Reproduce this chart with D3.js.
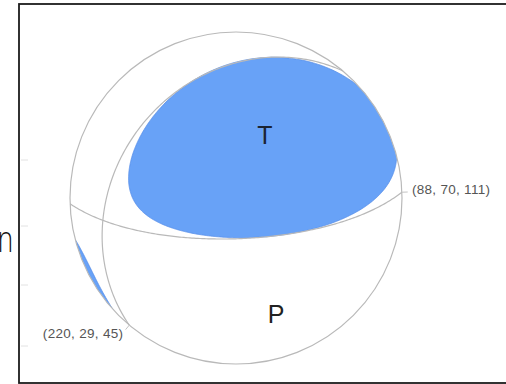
<!DOCTYPE html>
<html>
<head>
<meta charset="utf-8">
<script src="https://cdn.jsdelivr.net/npm/d3@7"></script>
<style>
  html, body { margin: 0; padding: 0; background: #fff; }
  svg { display: block; }
</style>
</head>
<body>
<svg id="chart" width="506" height="384"></svg>
<script>
// Nodal planes of the focal mechanism: strike, dip, rake (degrees)
const strikes = [88, 220];
const dips = [70, 29];
const rakes = [111, 45];
const planeLabels = ["(88, 70, 111)", "(220, 29, 45)"];
// Principal-axis labels
const axisLabels = ["T", "P"];
// Non-double-couple part of the full tensor: a negative dipole along the null (B) axis
const nullDipole = [0.13];

const W = 506, H = 384;
const cx = 236, cy = 198, R = 166;
const rad = Math.PI / 180;

const svg = d3.select("#chart");
svg.append("rect").attr("width", W).attr("height", H).attr("fill", "#fff");

// Equal-area (Schmidt) net, lower hemisphere: unit disk -> pixels
const xs = d3.scaleLinear().domain([-1, 1]).range([cx - R, cx + R]);
const ys = d3.scaleLinear().domain([-1, 1]).range([cy + R, cy - R]);

function project(v) {           // v = [north, east, down]
  let [N, E, D] = v;
  if (D < 0) { N = -N; E = -E; D = -D; }
  const th = Math.acos(Math.min(1, D));
  const rho = Math.SQRT2 * Math.sin(th / 2);
  const h = Math.hypot(N, E);
  const u = h > 1e-12 ? rho * E / h : 0;
  const w = h > 1e-12 ? rho * N / h : 0;
  return [xs(u), ys(w)];
}

function planeVectors(s, d, r) {
  s *= rad; d *= rad; r *= rad;
  const n = [-Math.sin(d) * Math.sin(s), Math.sin(d) * Math.cos(s), -Math.cos(d)];
  const sl = [
    Math.cos(r) * Math.cos(s) + Math.sin(r) * Math.cos(d) * Math.sin(s),
    Math.cos(r) * Math.sin(s) - Math.sin(r) * Math.cos(d) * Math.cos(s),
    -Math.sin(r) * Math.sin(d)
  ];
  return [n, sl];
}
const cross = (a, b) => [a[1] * b[2] - a[2] * b[1], a[2] * b[0] - a[0] * b[2], a[0] * b[1] - a[1] * b[0]];

// Moment tensor: double couple of the first plane plus the null-axis dipole
const [nv, sv] = planeVectors(strikes[0], dips[0], rakes[0]);
const Bax = cross(nv, sv);
const M = d3.range(3).map(i => d3.range(3).map(j =>
  sv[i] * nv[j] + nv[i] * sv[j] - nullDipole[0] * Bax[i] * Bax[j]));
function amplitude(r) {
  let a = 0;
  for (let i = 0; i < 3; i++) for (let j = 0; j < 3; j++) a += r[i] * M[i][j] * r[j];
  return a;
}

// Sample the first-motion polarity on a grid covering the net
const G = 320;
const values = new Float64Array(G * G);
for (let j = 0; j < G; j++) {
  for (let i = 0; i < G; i++) {
    const px = cx - R + (i + 0.5) * 2 * R / G;
    const py = cy - R + (j + 0.5) * 2 * R / G;
    let u = xs.invert(px), w = ys.invert(py);
    let rho = Math.hypot(u, w);
    if (rho > 1) { u /= rho; w /= rho; rho = 1; }
    const th = 2 * Math.asin(Math.min(1, rho / Math.SQRT2));
    const hh = Math.sin(th), D = Math.cos(th);
    const N = rho > 1e-12 ? hh * w / rho : 0;
    const E = rho > 1e-12 ? hh * u / rho : 0;
    values[j * G + i] = amplitude([N, E, D]);
  }
}
const compressional = d3.contours().size([G, G]).thresholds([0])(values)[0];
const gridPath = d3.geoPath(d3.geoTransform({
  point(x, y) { this.stream.point(cx - R + x * 2 * R / G, cy - R + y * 2 * R / G); }
}));

svg.append("clipPath").attr("id", "net")
  .append("circle").attr("cx", cx).attr("cy", cy).attr("r", R);

svg.append("path")
  .attr("d", gridPath(compressional))
  .attr("clip-path", "url(#net)")
  .attr("fill", "#68a2f7")
  .attr("stroke", "#5a90ea")
  .attr("stroke-width", 0.8);

// Frame
svg.append("rect")
  .attr("x", 19).attr("y", 4).attr("width", 600).attr("height", 379)
  .attr("fill", "none").attr("stroke", "#1c1c1c").attr("stroke-width", 1.8);

// Faint tick marks along the frame
[160, 226, 285, 346].forEach(t => {
  svg.append("line").attr("x1", 21).attr("x2", 28).attr("y1", t).attr("y2", t)
    .attr("stroke", "#e2e2e2").attr("stroke-width", 1);
});

// Cut-off letter at the left edge
svg.append("text")
  .attr("transform", "translate(-2.4,252) scale(0.72,1)")
  .attr("font-family", "Open Sans, sans-serif")
  .attr("font-weight", 300)
  .attr("font-size", 37)
  .attr("fill", "#111")
  .text("n");

// Primitive circle
svg.append("circle").attr("cx", cx).attr("cy", cy).attr("r", R)
  .attr("fill", "none").attr("stroke", "#b9b9b9").attr("stroke-width", 1.2);

// Nodal planes as great circles
const line = d3.line();
strikes.forEach((s, k) => {
  const sr = s * rad, dr = dips[k] * rad;
  const along = [Math.cos(sr), Math.sin(sr), 0];
  const down = [-Math.cos(dr) * Math.sin(sr), Math.cos(dr) * Math.cos(sr), Math.sin(dr)];
  const pts = d3.range(0, 181).map(a => {
    const t = a * rad;
    return project([0, 1, 2].map(i => Math.cos(t) * along[i] + Math.sin(t) * down[i]));
  });
  svg.append("path").attr("d", line(pts))
    .attr("fill", "none").attr("stroke", "#b9b9b9").attr("stroke-width", 1.2);
});

// Plane labels with short leaders at the ends of each plane
const labelPlace = [
  { az: strikes[0], dx: 10, dy: 2, anchor: "start" },
  { az: strikes[1], dx: -6, dy: 13, anchor: "end" }
];
planeLabels.forEach((lab, k) => {
  const a = labelPlace[k].az * rad;
  const p0 = [xs(Math.sin(a)), ys(Math.cos(a))];
  const p1 = [xs(Math.sin(a) * 1.035), ys(Math.cos(a) * 1.035)];
  svg.append("line").attr("x1", p0[0]).attr("y1", p0[1]).attr("x2", p1[0]).attr("y2", p1[1])
    .attr("stroke", "#c4c4c4").attr("stroke-width", 1);
  svg.append("text")
    .attr("x", p0[0] + labelPlace[k].dx).attr("y", p0[1] + labelPlace[k].dy)
    .attr("text-anchor", labelPlace[k].anchor)
    .attr("font-family", "Liberation Sans, Arial, sans-serif")
    .attr("font-size", 13.5)
    .attr("letter-spacing", 0.3)
    .attr("fill", "#555")
    .text(lab);
});

// T and P axis labels at the projected principal axes
const Tax = [0, 1, 2].map(i => (nv[i] + sv[i]) / Math.SQRT2);
const Pax = [0, 1, 2].map(i => (nv[i] - sv[i]) / Math.SQRT2);
[Tax, Pax].forEach((ax, k) => {
  const p = project(ax);
  svg.append("text")
    .attr("x", p[0]).attr("y", p[1])
    .attr("text-anchor", "middle")
    .attr("font-family", "Liberation Sans, Arial, sans-serif")
    .attr("font-size", 25)
    .attr("fill", k === 0 ? "#1b2433" : "#222")
    .text(axisLabels[k]);
});
</script>
</body>
</html>
